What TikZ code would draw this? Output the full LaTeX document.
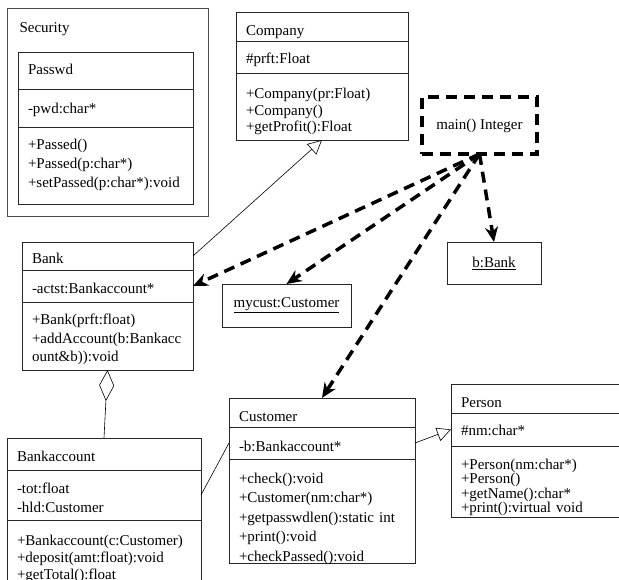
\documentclass[tikz,border=0pt]{standalone}
\usepackage{fontspec}
\setmainfont{Liberation Serif}
\usetikzlibrary{arrows.meta}
\tikzset{part/.style={draw=black!85,line width=0.8pt,anchor=north west,
                      align=left,inner xsep=10pt,inner ysep=0pt,outer sep=0pt,
                      font=\fontsize{15}{19}\selectfont}}
\tikzset{cell/.style n args={3}{minimum height=#1,text height=#2,text depth=#3}}
\tikzset{object/.style={draw=black!85,line width=0.8pt,anchor=north west,
                        inner sep=0pt,outer sep=0pt,
                        font=\fontsize{15}{19}\selectfont}}
\tikzset{calls/.style={line width=3.5pt,dash pattern=on 11pt off 7pt,
                       -{Stealth[length=15pt,width=13pt]}}}
\tikzset{inherits/.style={line width=0.6pt,
                          -{Triangle[open,length=14pt,width=14pt]}}}
\tikzset{holds/.style={line width=0.6pt,
                       {Diamond[open,length=31pt,width=15pt]}-}}
\tikzset{link/.style={line width=0.6pt}}

\begin{document}
\begin{tikzpicture}[x=1pt,y=-1pt]
    \useasboundingbox (0,0) rectangle (619,580);
    \clip (0,0) rectangle (619,580);
    % Security package
    \node[object,draw=black!70,minimum width=201pt,minimum height=208pt] (sec) at (7,8) {};
    \node[anchor=west,font=\fontsize{15}{19}\selectfont] (sec-l) at (16,29) {Security};
    \node[part,text width=155pt,cell={37pt}{23pt}{14pt}] (pw-n) at (18,52) {Passwd};
    \node[part,text width=155pt,cell={38pt}{25pt}{13pt}] (pw-a) at (18,89) {-pwd:char*};
    \node[part,text width=155pt,cell={77pt}{23pt}{54pt}] (pw-m) at (18,127)
         {+Passed()\\+Passed(p:char*)\\+setPassed(p:char*):void};
    % Company
    \node[part,text width=152pt,cell={29pt}{24pt}{5pt}] (comp-n) at (236,12) {Company};
    \node[part,text width=152pt,cell={32pt}{23pt}{9pt}] (comp-a) at (236,41) {\#prft:Float};
    \node[part,text width=152pt,cell={67pt}{26pt}{41pt},font=\fontsize{15}{16.5}\selectfont]
         (comp-m) at (236,73) {+Company(pr:Float)\\+Company()\\+getProfit():Float};
    % Bank
    \node[part,text width=151pt,cell={28pt}{22pt}{6pt}] (bank-n) at (22,242) {Bank};
    \node[part,text width=151pt,cell={32pt}{24pt}{8pt}] (bank-a) at (22,270) {-actst:Bankaccount*};
    \node[part,text width=151pt,cell={68pt}{23pt}{45pt},font=\fontsize{15}{18.5}\selectfont]
         (bank-m) at (22,302) {+Bank(prft:float)\\+addAccount(b:Bankacc\\ount\&b)):void};
    % Bankaccount
    \node[part,text width=174pt,cell={32pt}{23pt}{9pt}] (bacc-n) at (7,438) {Bankaccount};
    \node[part,text width=174pt,cell={50pt}{23pt}{27pt}] (bacc-a) at (7,470)
         {-tot:float\\-hld:Customer};
    \node[part,text width=174pt,cell={78pt}{25pt}{53pt},font=\fontsize{15}{17}\selectfont]
         (bacc-m) at (7,520) {+Bankaccount(c:Customer)\\+deposit(amt:float):void\\+getTotal():float};
    % Customer
    \node[part,text width=166pt,cell={29pt}{23pt}{6pt}] (cust-n) at (229,398) {Customer};
    \node[part,text width=166pt,cell={32pt}{24pt}{8pt}] (cust-a) at (229,427) {-b:Bankaccount*};
    \node[part,text width=166pt,cell={104pt}{24pt}{80pt},font=\fontsize{15}{19.5}\selectfont]
         (cust-m) at (229,459)
         {+check():void\\+Customer(nm:char*)\\+getpasswdlen():static int\\+print():void\\+checkPassed():void};
    % Person
    \node[part,text width=180pt,cell={29pt}{23pt}{6pt}] (pers-n) at (451,384) {Person};
    \node[part,text width=180pt,cell={33pt}{22pt}{11pt}] (pers-a) at (451,413) {\#nm:char*};
    \node[part,text width=180pt,cell={71pt}{23pt}{48pt},font=\fontsize{15}{14.5}\selectfont]
         (pers-m) at (451,446) {+Person(nm:char*)\\+Person()\\+getName():char*\\+print():virtual void};
    % Objects
    \node[object,line width=3.5pt,dash pattern=on 11pt off 7pt,draw=black,
          minimum width=115pt,minimum height=57pt] (main) at (422,97) {main() Integer};
    \node[object,minimum width=94pt,minimum height=42pt] (bbank) at (447,242) {\underline{b:Bank}};
    \node[object,minimum width=129pt,minimum height=43pt] (mycust) at (222,284)
         {\underline{mycust:Customer}};
    % Connectors
    \draw[calls] (main.south) -- (bbank.north);
    \draw[calls] (main.south) -- (bank-a.east);
    \draw[calls] (main.south) -- (mycust.north);
    \draw[calls] (main.south) -- (cust-n.north);
    \draw[inherits] (bank-n.east) -- (comp-m.south);
    \draw[inherits] (cust-a.east) -- (pers-a.west);
    \draw[link] (bacc-a.east) -- (cust-a.west);
    \draw[holds] (bank-m.south) -- (bacc-n.north);
\end{tikzpicture}
\end{document}
